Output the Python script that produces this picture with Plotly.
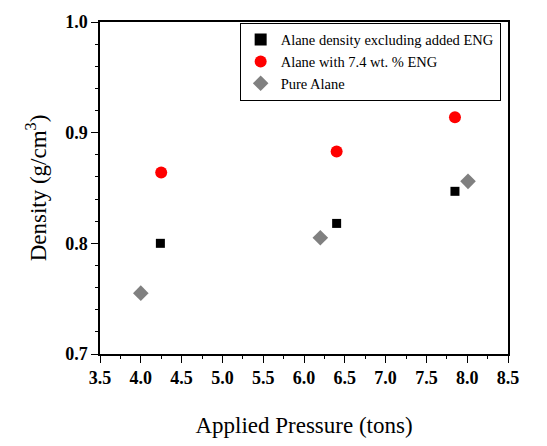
import plotly.graph_objects as go

# Applied pressure (tons) and measured density (g/cm^3)
eng_excl_pressure = [4.24, 6.40, 7.85]
eng_excl_density = [0.800, 0.818, 0.847]

eng_pressure = [4.25, 6.40, 7.85]
eng_density = [0.864, 0.883, 0.914]

pure_pressure = [4.00, 6.20, 8.01]
pure_density = [0.755, 0.805, 0.856]

series_names = [
    "Alane density excluding added ENG",
    "Alane with 7.4 wt. % ENG",
    "Pure Alane",
]

x_range = [3.5, 8.5]
y_range = [0.7, 1.0]

serif = "Liberation Serif"
tick_font = dict(family=serif, size=18, weight="bold", color="black")

fig = go.Figure()
fig.add_trace(go.Scatter(
    x=eng_excl_pressure, y=eng_excl_density, mode="markers", name=series_names[0],
    marker=dict(symbol="square", size=9, color="black"),
))
fig.add_trace(go.Scatter(
    x=eng_pressure, y=eng_density, mode="markers", name=series_names[1],
    marker=dict(symbol="circle", size=12, color="#ff0000"),
))
fig.add_trace(go.Scatter(
    x=pure_pressure, y=pure_density, mode="markers", name=series_names[2],
    marker=dict(symbol="diamond", size=12, color="#808080"),
    xaxis="x2", yaxis="y2",
))

fig.update_layout(
    width=547, height=446,
    margin=dict(l=100, r=39, t=19, b=80),
    plot_bgcolor="white", paper_bgcolor="white",
    xaxis=dict(
        range=x_range, dtick=0.5, tickformat=".1f", tickfont=tick_font,
        showline=True, linecolor="black", linewidth=1.5, mirror=True,
        showgrid=False, zeroline=False,
        ticks="outside", ticklen=7, tickwidth=1.2, tickcolor="black",
        title=dict(text="Applied Pressure (tons)",
                   font=dict(family=serif, size=23, color="black"), standoff=30),
    ),
    yaxis=dict(
        range=y_range, dtick=0.1, tickformat=".1f", tickfont=tick_font,
        showline=True, linecolor="black", linewidth=1.5, mirror=True,
        showgrid=False, zeroline=False,
        ticks="outside", ticklen=7, tickwidth=1.2, tickcolor="black",
        title=dict(text="Density (g/cm<sup>3</sup>)",
                   font=dict(family=serif, size=23, color="black"), standoff=12),
    ),
    # secondary axes carry the short intermediate ticks
    xaxis2=dict(
        range=x_range, dtick=0.25, overlaying="x", anchor="y2", side="bottom",
        showticklabels=False, showline=False, showgrid=False, zeroline=False,
        ticks="outside", ticklen=4, tickwidth=1.2, tickcolor="black",
    ),
    yaxis2=dict(
        range=y_range, dtick=0.02, overlaying="y", anchor="x2", side="left",
        showticklabels=False, showline=False, showgrid=False, zeroline=False,
        ticks="outside", ticklen=4, tickwidth=1.2, tickcolor="black",
    ),
    legend=dict(
        x=0.982, y=0.998, xanchor="right", yanchor="top",
        bordercolor="black", borderwidth=1, bgcolor="white",
        font=dict(family=serif, size=14.5, color="black"),
        tracegroupgap=0, itemsizing="constant",
    ),
)

fig.write_html("out.html")
